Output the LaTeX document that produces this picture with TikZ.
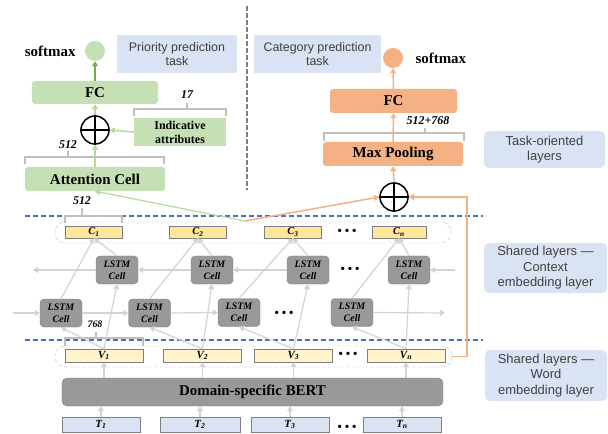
\documentclass[tikz,border=0pt]{standalone}
\usepackage{fontspec}
\setmainfont{Liberation Serif}
\newfontfamily\labfont{Liberation Sans}
\usetikzlibrary{arrows.meta}

\definecolor{grnfill}{HTML}{C5E0B4}
\definecolor{grnline}{HTML}{B5D99C}
\definecolor{grndark}{HTML}{70AD47}
\definecolor{orgfill}{HTML}{F4B183}
\definecolor{lblue}{HTML}{DAE3F3}
\definecolor{cyel}{HTML}{FFE699}
\definecolor{vyel}{HTML}{FFF2CC}
\definecolor{cellgray}{HTML}{999999}
\definecolor{edgegray}{HTML}{7F7F7F}
\definecolor{arrgray}{HTML}{D3D3D3}
\definecolor{bracegray}{HTML}{BFBFBF}
\definecolor{sepblue}{HTML}{4472C4}
\definecolor{labtext}{HTML}{404040}

\tikzset{
  tip/.style={-{Triangle[length=5bp,width=6bp]}},
  greenbox/.style={fill=grnfill, rounded corners=3bp, inner sep=0pt,
    font=\fontsize{15}{17}\selectfont\bfseries},
  orgbox/.style={fill=orgfill, rounded corners=3bp, inner sep=0pt,
    font=\fontsize{15}{17}\selectfont\bfseries},
  taskbox/.style={fill=lblue, inner sep=0pt, align=center, text=labtext,
    font=\labfont\fontsize{12.5}{14}\selectfont},
  layerbox/.style={fill=lblue, rounded corners=5bp, inner sep=0pt, align=center,
    text=labtext, font=\labfont\fontsize{13}{15.5}\selectfont},
  cbox/.style={fill=cyel, draw=edgegray, minimum width=57bp, minimum height=12bp,
    inner sep=0pt, font=\fontsize{10.5}{10.5}\selectfont\bfseries\itshape},
  vbox/.style={fill=vyel, draw=edgegray, minimum width=78bp, minimum height=13bp,
    inner sep=0pt, font=\fontsize{11}{11}\selectfont\bfseries\itshape},
  tbox/.style={fill=lblue, draw=edgegray, minimum width=78bp, minimum height=15bp,
    inner sep=0pt, font=\fontsize{11}{11}\selectfont\bfseries\itshape},
  lstmcell/.style={fill=cellgray, draw=edgegray, rounded corners=4bp,
    minimum width=42bp, minimum height=28bp, inner sep=0pt, align=center,
    font=\fontsize{10}{12}\selectfont\bfseries\itshape},
  rowframe/.style={draw=bracegray, dash pattern=on 4bp off 2bp, rounded corners=10bp,
    inner sep=0pt, minimum height=21bp},
  garrow/.style={draw=arrgray, line width=1.2bp, tip},
  grnarrow/.style={draw=grnline, line width=1.5bp, tip},
  orgarrow/.style={draw=orgfill, line width=1.5bp, tip},
  brace/.style={draw=bracegray, line width=1.3bp},
  sepline/.style={draw=sepblue, line width=1.2bp, dash pattern=on 5bp off 3bp},
  dimlab/.style={font=\fontsize{12}{12}\selectfont\bfseries\itshape},
  dots/.style={font=\fontsize{14}{14}\selectfont},
  plus/.style={circle, draw, line width=1.5bp, minimum size=28bp, inner sep=0pt}
}

\begin{document}
\begin{tikzpicture}[x=1bp,y=-1bp]
      \useasboundingbox (0,0) rectangle (608,434);

      % Separators
      \draw[edgegray, line width=1.5bp, dash pattern=on 5bp off 2bp] (247,6) -- (247,190);
      \draw[sepline] (25,216) -- (483,216);
      \draw[sepline] (25,340) -- (483,340);

      % Priority prediction task
      \node[taskbox, minimum width=120bp, minimum height=38bp] (prio) at (177,54) {Priority prediction\\task};
      \node[circle, fill=grnfill, minimum size=20bp, inner sep=0pt] (smxA) at (95,51) {};
      \node[anchor=east, font=\fontsize{15}{17}\selectfont\bfseries] (smxlabA) at (79,51) {softmax};
      \node[greenbox, minimum width=126bp, minimum height=23bp] (fcA) at (95,92.5) {FC};
      \node[plus] (plusA) at (95,130) {};
      \draw[line width=1.5bp] (plusA.north) -- (plusA.south) (plusA.west) -- (plusA.east);
      \node[greenbox, rounded corners=0pt, minimum width=92bp, minimum height=28bp, align=center,
        font=\fontsize{12}{14}\selectfont\bfseries] (indA) at (180,132) {Indicative\\attributes};
      \node[greenbox, minimum width=140bp, minimum height=24bp] (attnA) at (95,179) {Attention Cell};

      \draw[brace] (134,116) -- (134,109) -- (226,109) -- (226,116) (187,109) -- (187,103);
      \node[dimlab] (dim17) at (187,95) {17};
      \draw[brace] (25,164) -- (25,157) -- (164,157) -- (164,164) (68,157) -- (68,151);
      \node[dimlab] (dim512a) at (68,145) {512};

      \draw[grndark, line width=1.5bp, tip] (fcA.north) -- (smxA.south);
      \draw[grnarrow] (plusA.north) -- (fcA.south);
      \draw[grnarrow] (indA.west) -- (plusA.east);
      \draw[grnarrow] (attnA.north) -- (plusA.south);

      % Category prediction task
      \node[taskbox, minimum width=127bp, minimum height=38bp] (cat) at (317.5,54) {Category prediction\\task};
      \node[circle, fill=orgfill, minimum size=20bp, inner sep=0pt] (smxB) at (393,58) {};
      \node[anchor=west, font=\fontsize{15}{17}\selectfont\bfseries] (smxlabB) at (412,58) {softmax};
      \node[orgbox, minimum width=127bp, minimum height=24bp] (fcB) at (393.5,101) {FC};
      \node[orgbox, minimum width=140bp, minimum height=24bp] (poolB) at (393,154) {Max Pooling};
      \node[plus] (plusB) at (394,197) {};
      \draw[line width=1.5bp] (plusB.north) -- (plusB.south) (plusB.west) -- (plusB.east);

      \draw[brace] (324,141) -- (324,133) -- (464,133) -- (464,141) (425,133) -- (425,128);
      \node[dimlab] (dim1280) at (428,121) {512+768};

      \draw[orgarrow] (fcB.north) -- (smxB.south);
      \draw[orgarrow] (poolB.north) -- (fcB.south);
      \draw[orgarrow] (plusB.north) -- (poolB.south);

      % Layer labels
      \node[layerbox, minimum width=121bp, minimum height=37bp] (tasklab) at (544.5,149.5) {Task-oriented\\layers};
      \node[layerbox, minimum width=123bp, minimum height=50bp] (ctxlab) at (545.5,268) {Shared layers —\\Context\\embedding layer};
      \node[layerbox, minimum width=122bp, minimum height=51bp] (wordlab) at (546,375.5) {Shared layers —\\Word\\embedding layer};

      % Context vectors
      \node[rowframe, minimum width=396bp] (crow) at (253,232.5) {};
      \node[cbox] (c1) at (94,232) {C\textsubscript{1}};
      \node[cbox] (c2) at (198,232) {C\textsubscript{2}};
      \node[cbox] (c3) at (293,232) {C\textsubscript{3}};
      \node[cbox, minimum width=54bp] (cn) at (399,232) {C\textsubscript{n}};
      \node[dots] (cdots) at (347,232) {\textbullet\,\textbullet\,\textbullet};

      \draw[brace] (65,223) -- (65,216) -- (122,216) -- (122,223) (82,216) -- (82,208);
      \node[dimlab] (dim512b) at (82,201) {512};

      \coordinate (cfeat) at (245,221);
      \draw[grnarrow, line width=1.2bp] (cfeat) -- (attnA.south);
      \draw[orgarrow] (cfeat) -- (plusB.west);

      % BiLSTM, backward row
      \node[lstmcell] (u1) at (117,270) {LSTM\\Cell};
      \node[lstmcell] (u2) at (212,270) {LSTM\\Cell};
      \node[lstmcell] (u3) at (308,270) {LSTM\\Cell};
      \node[lstmcell] (u4) at (409,270) {LSTM\\Cell};
      \node[dots] (udots) at (350,270) {\textbullet\,\textbullet\,\textbullet};
      \coordinate (uleft) at (33,270);
      \coordinate (uright) at (455,270);
      \draw[garrow] (uright) -- (u4.east);
      \draw[garrow] (u3.west) -- (u2.east);
      \draw[garrow] (u2.west) -- (u1.east);
      \draw[garrow] (u1.west) -- (uleft);

      % BiLSTM, forward row
      \node[lstmcell] (l1) at (61,313) {LSTM\\Cell};
      \node[lstmcell] (l2) at (149.5,313) {LSTM\\Cell};
      \node[lstmcell] (l3) at (239,312.5) {LSTM\\Cell};
      \node[lstmcell] (l4) at (352,312.5) {LSTM\\Cell};
      \node[dots] (ldots) at (284,314) {\textbullet\,\textbullet\,\textbullet};
      \coordinate (lleft) at (13,313);
      \coordinate (lright) at (445,313);
      \draw[garrow] (lleft) -- (l1.west);
      \draw[garrow] (l1.east) -- (l2.west);
      \draw[garrow] (l2.east) -- (l3.west);
      \draw[garrow] (l4.east) -- (lright);

      % Word vectors
      \node[rowframe, minimum width=397bp] (vrow) at (253.5,356.5) {};
      \node[vbox] (v1) at (104,355.5) {V\textsubscript{1}};
      \node[vbox] (v2) at (202.5,355.5) {V\textsubscript{2}};
      \node[vbox] (v3) at (293.5,355.5) {V\textsubscript{3}};
      \node[vbox] (vn) at (406,355.5) {V\textsubscript{n}};
      \node[dots] (vdots) at (348,355.5) {\textbullet\,\textbullet\,\textbullet};

      \draw[brace] (65,346) -- (65,338) -- (143,338) -- (143,346) (96,338) -- (96,332);
      \node[dimlab, font=\fontsize{10}{10}\selectfont\bfseries\itshape] (dim768) at (95,324) {768};

      \draw[orgarrow] (vrow.east) -- ++(15,0) |- (plusB.east);

      % Word vectors into the cells
      \draw[garrow] (v1.north) -- (l1.south);
      \draw[garrow] (v1.north) -- (u1.south);
      \draw[garrow] (v2.north) -- (l2.south);
      \draw[garrow] (v2.north) -- (u2.south);
      \draw[garrow] (v3.north) -- (l3.south);
      \draw[garrow] (v3.north) -- (u3.south);
      \draw[garrow] (vn.north) -- (l4.south);
      \draw[garrow] (vn.north) -- (u4.south);

      % Cells into the context vectors
      \draw[garrow] (l1.north) -- (c1.south);
      \draw[garrow] (u1.north) -- (c1.south);
      \draw[garrow] (l2.north) -- (c2.south);
      \draw[garrow] (u2.north) -- (c2.south);
      \draw[garrow] (l3.north) -- (c3.south);
      \draw[garrow] (u3.north) -- (c3.south);
      \draw[garrow] (l4.north) -- (cn.south);
      \draw[garrow] (u4.north) -- (cn.south);

      % BERT and tokens
      \node[fill=cellgray, draw=edgegray, rounded corners=5bp, minimum width=381bp, minimum height=28bp,
        font=\fontsize{15}{17}\selectfont\bfseries] (bert) at (252.5,392) {Domain-specific BERT};
      \node[tbox] (t1) at (101,424.5) {T\textsubscript{1}};
      \node[tbox, minimum width=80bp] (t2) at (200,424.5) {T\textsubscript{2}};
      \node[tbox] (t3) at (290,424.5) {T\textsubscript{3}};
      \node[tbox] (tn) at (402,424.5) {T\textsubscript{n}};
      \node[dots] (tdots) at (347,428) {\textbullet\,\textbullet\,\textbullet};

      \draw[garrow] (t1.north) -- (t1.north |- bert.south);
      \draw[garrow] (t2.north) -- (t2.north |- bert.south);
      \draw[garrow] (t3.north) -- (t3.north |- bert.south);
      \draw[garrow] (tn.north) -- (tn.north |- bert.south);
      \draw[garrow] (v1.south |- bert.north) -- (v1.south);
      \draw[garrow] (v2.south |- bert.north) -- (v2.south);
      \draw[garrow] (v3.south |- bert.north) -- (v3.south);
      \draw[garrow] (vn.south |- bert.north) -- (vn.south);
\end{tikzpicture}
\end{document}
